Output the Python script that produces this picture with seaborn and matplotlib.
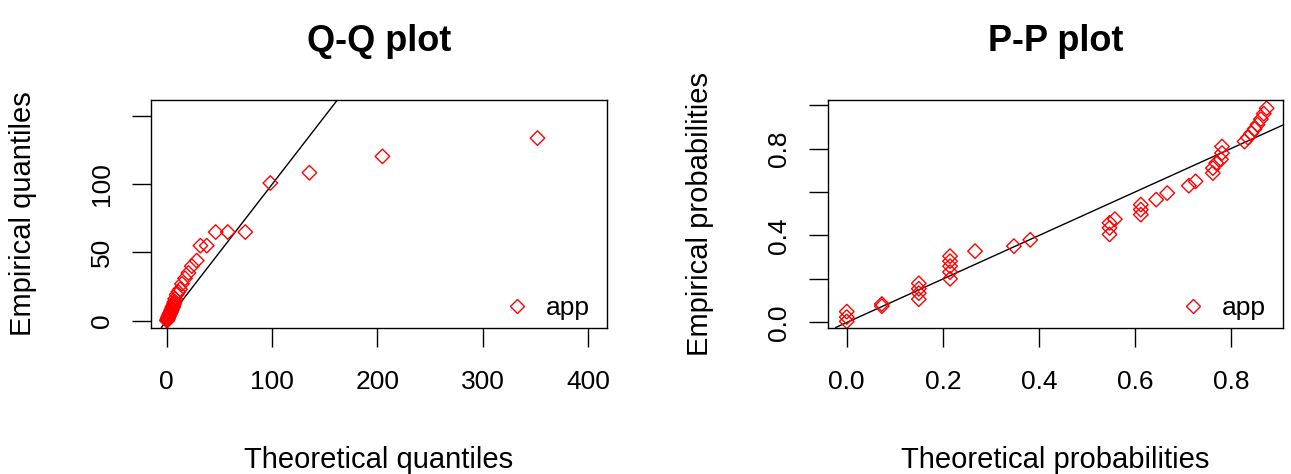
import matplotlib
matplotlib.use("Agg")
import matplotlib.pyplot as plt
from matplotlib.lines import Line2D
import seaborn as sns
import pandas as pd

# ---- data ----
qq_theoretical = [0.2, 0.5, 0.7, 1.0, 1.2, 1.5, 1.7, 2.0, 2.3, 2.6, 2.9, 3.2,
                  3.5, 3.8, 4.2, 4.5, 4.9, 5.2, 5.6, 6.0, 6.4, 6.8, 7.2, 7.6,
                  8.0, 9.5, 11.0, 12.7, 14.5, 17.4, 20.6, 23.8, 28.5, 32.0,
                  38.0, 46.5, 58.0, 74.6, 98.4, 135.5, 204.8, 352.0]
qq_empirical = [0, 0, 1, 1, 2, 2, 3, 3, 4, 4, 5, 5,
                6, 6, 7, 8, 8, 9, 10, 10, 11, 12, 13, 14,
                16, 19, 21, 23, 27, 31, 35, 40, 44, 55,
                55, 65, 65, 65, 101, 108.6, 120.6, 134]

pp_theoretical = [0.0, 0.0, 0.0,
                  0.073, 0.073,
                  0.150, 0.150, 0.150, 0.150,
                  0.215, 0.215, 0.215, 0.215, 0.215,
                  0.267, 0.348, 0.382,
                  0.547, 0.547, 0.547, 0.558,
                  0.612, 0.612, 0.612,
                  0.644, 0.667,
                  0.712, 0.726,
                  0.762, 0.762, 0.769, 0.779, 0.781, 0.781,
                  0.828, 0.835, 0.842, 0.849, 0.855, 0.862, 0.868, 0.874]
pp_empirical = [0.005, 0.025, 0.050,
                0.075, 0.085,
                0.107, 0.135, 0.155, 0.180,
                0.201, 0.232, 0.259, 0.282, 0.305,
                0.328, 0.351, 0.380,
                0.405, 0.435, 0.458, 0.475,
                0.496, 0.519, 0.542,
                0.565, 0.595,
                0.629, 0.649,
                0.687, 0.710, 0.733, 0.750, 0.779, 0.809,
                0.832, 0.850, 0.870, 0.890, 0.910, 0.935, 0.960, 0.985]

legend_label = "app"
qq_xticks = [0, 100, 200, 300, 400]
qq_yticks = [0, 50, 100, 150]
qq_ytick_labels = ["0", "50", "100", ""]
pp_xticks = [0.0, 0.2, 0.4, 0.6, 0.8]
pp_xtick_labels = ["0.0", "0.2", "0.4", "0.6", "0.8"]
pp_yticks = [0.0, 0.2, 0.4, 0.6, 0.8, 1.0]
pp_ytick_labels = ["0.0", "", "0.4", "", "0.8", ""]

# ---- style ----
sns.set_theme(style="ticks")
plt.rcParams["font.family"] = ["Liberation Sans", "DejaVu Sans"]
plt.rcParams["text.color"] = "black"
plt.rcParams["axes.labelcolor"] = "black"
plt.rcParams["xtick.color"] = "black"
plt.rcParams["ytick.color"] = "black"

W, H = 1291, 474
fig = plt.figure(figsize=(W / 100, H / 100), dpi=100)
fig.patch.set_facecolor("white")

bottom_px, top_px = 327.5, 100
ax1 = fig.add_axes([151 / W, 1 - bottom_px / H, (607 - 151) / W, (bottom_px - top_px) / H])
ax2 = fig.add_axes([828 / W, 1 - bottom_px / H, (1283 - 828) / W, (bottom_px - top_px) / H])

TICK_FS = 19
LABEL_FS = 21
TITLE_FS = 26
MS = 7.4
MEW = 1.0

qq_df = pd.DataFrame({"theoretical": qq_theoretical, "empirical": qq_empirical})
pp_df = pd.DataFrame({"theoretical": pp_theoretical, "empirical": pp_empirical})


def draw(ax, df, title, xlabel, ylabel, xlim, ylim, xticks, xtl, yticks, ytl):
    ax.set_facecolor("white")
    ax.axline((0, 0), slope=1, color="black", lw=1.0, zorder=1)
    sns.scatterplot(data=df, x="theoretical", y="empirical", ax=ax,
                    marker="D", s=MS ** 2, facecolors="none",
                    edgecolors="red", linewidths=MEW, zorder=2, legend=False)
    ax.set_xlim(*xlim)
    ax.set_ylim(*ylim)
    ax.set_xticks(xticks)
    ax.set_xticklabels(xtl)
    ax.set_yticks(yticks)
    ax.set_yticklabels(ytl, rotation=90, va="center")
    ax.tick_params(axis="both", direction="out", length=13.5, width=1.0,
                   color="black", labelsize=TICK_FS, labelcolor="black")
    ax.tick_params(axis="x", pad=17)
    ax.tick_params(axis="y", pad=13)
    for sp in ax.spines.values():
        sp.set_visible(True)
        sp.set_color("black")
        sp.set_linewidth(1.0)
    ax.set_title(title, fontsize=TITLE_FS, fontweight="bold", pad=35,
                 color="black")
    ax.set_xlabel(xlabel, fontsize=LABEL_FS, color="black")
    ax.set_ylabel(ylabel, fontsize=LABEL_FS, color="black")
    ax.xaxis.set_label_coords(0.5, -0.52)
    ax.yaxis.set_label_coords(-0.25, 0.5)
    handle = Line2D([], [], marker="D", ls="none", mfc="none", mec="red",
                    ms=MS, mew=MEW)
    leg = ax.legend([handle], [legend_label], loc="lower right",
                    bbox_to_anchor=(0.963, 0.033), borderaxespad=0, borderpad=0,
                    frameon=False, fontsize=TICK_FS, handlelength=1.0,
                    handletextpad=0.6)
    for t in leg.get_texts():
        t.set_color("black")


draw(ax1, qq_df, "Q-Q plot", "Theoretical quantiles", "Empirical quantiles",
     (-14.9, 418), (-5.1, 162), qq_xticks, [str(t) for t in qq_xticks],
     qq_yticks, qq_ytick_labels)
draw(ax2, pp_df, "P-P plot", "Theoretical probabilities", "Empirical probabilities",
     (-0.039, 0.908), (-0.023, 1.023), pp_xticks, pp_xtick_labels,
     pp_yticks, pp_ytick_labels)

fig.savefig("out.png", dpi=100, facecolor="white")
